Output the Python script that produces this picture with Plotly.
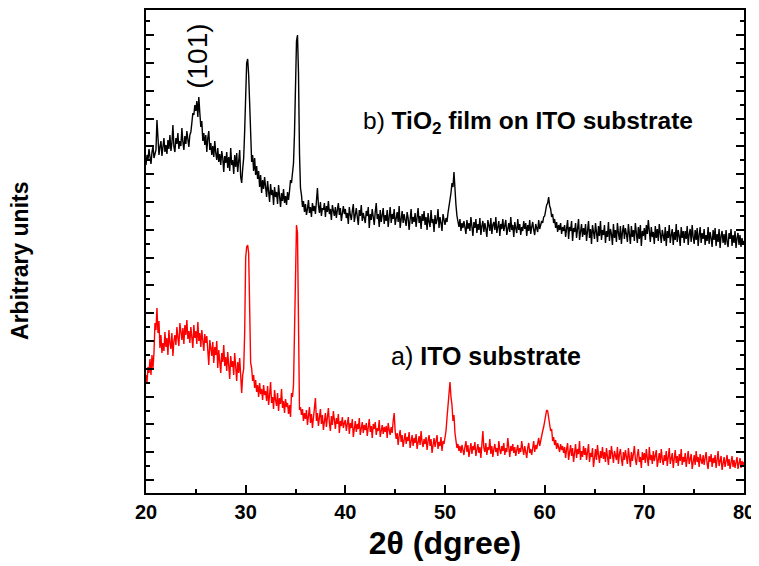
import numpy as np
import plotly.graph_objects as go

# 2-theta scan grid, 0.1 degree steps from 20 to 80
two_theta = np.round(np.arange(20.0, 80.05, 0.1), 1)

# b) TiO2 film on ITO substrate (arbitrary units)
tio2_on_ito = [
    328, 338, 333, 344, 336, 329, 341, 347, 335, 340, 343, 373, 350, 338, 346, 352, 337, 344, 355, 341,
    348, 339, 353, 344, 358, 342, 350, 368, 346, 341, 355, 349, 360, 344, 352, 347, 365, 351, 343, 357,
    349, 362, 354, 346, 358, 361, 370, 380, 378, 388, 382, 392, 376, 396, 380, 366, 372, 352, 360, 348,
    358, 341, 355, 362, 343, 350, 338, 347, 336, 352, 340, 333, 345, 331, 339, 328, 342, 335, 321, 337,
    330, 341, 325, 336, 322, 345, 328, 333, 319, 338, 326, 340, 321, 330, 343, 316, 310, 324, 335, 362,
    398, 430, 434, 418, 390, 345, 331, 338, 322, 335, 318, 327, 314, 322, 306, 318, 300, 313, 304, 316,
    305, 296, 312, 300, 291, 309, 298, 303, 288, 306, 296, 301, 289, 308, 294, 286, 300, 292, 304, 290,
    297, 288, 301, 293, 302, 313, 310, 318, 330, 360, 410, 452, 458, 420, 340, 305, 298, 286, 292, 281,
    289, 278, 284, 293, 280, 286, 276, 290, 282, 287, 279, 294, 305, 288, 280, 291, 277, 285, 283, 290,
    276, 287, 281, 292, 279, 284, 273, 288, 282, 277, 286, 275, 283, 290, 278, 285, 272, 281, 287, 279,
    284, 275, 280, 269, 286, 278, 273, 282, 289, 271, 279, 285, 276, 268, 283, 277, 288, 272, 280, 274,
    270, 282, 277, 286, 265, 279, 273, 284, 276, 268, 281, 290, 274, 279, 266, 283, 271, 277, 285, 269,
    278, 272, 283, 266, 275, 286, 270, 279, 274, 284, 268, 277, 281, 271, 287, 265, 276, 282, 270, 279,
    273, 267, 281, 275, 263, 278, 284, 269, 276, 271, 280, 266, 274, 285, 270, 277, 264, 279, 272, 282,
    268, 276, 263, 280, 271, 266, 283, 270, 274, 261, 278, 269, 273, 284, 265, 276, 270, 262, 279, 272,
    268, 275, 271, 280, 286, 295, 300, 310, 306, 321, 300, 288, 277, 270, 266, 274, 262, 270, 265, 272,
    266, 259, 273, 264, 270, 262, 276, 268, 257, 271, 265, 274, 260, 269, 263, 275, 258, 267, 272, 261,
    270, 264, 256, 273, 267, 262, 275, 259, 268, 271, 263, 276, 260, 266, 272, 257, 269, 264, 274, 262,
    267, 273, 258, 265, 270, 261, 276, 263, 268, 256, 271, 265, 260, 274, 263, 269, 258, 266, 262, 272,
    264, 270, 257, 268, 262, 273, 259, 266, 271, 263, 258, 269, 265, 261, 273, 264, 268, 272, 270, 276,
    277, 284, 288, 290, 296, 287, 284, 276, 279, 270, 274, 265, 271, 261, 268, 263, 270, 259, 266, 262,
    268, 256, 264, 273, 254, 266, 262, 272, 252, 265, 261, 270, 255, 264, 274, 253, 263, 269, 256, 265,
    258, 269, 252, 263, 272, 255, 264, 249, 268, 261, 254, 270, 262, 251, 267, 257, 272, 253, 263, 258,
    268, 250, 262, 256, 271, 252, 264, 259, 248, 269, 255, 263, 251, 270, 260, 253, 267, 249, 261, 268,
    254, 265, 259, 251, 269, 261, 249, 267, 256, 263, 252, 270, 260, 250, 266, 254, 268, 247, 262, 257,
    265, 253, 268, 259, 273, 262, 251, 266, 256, 261, 249, 267, 255, 264, 252, 269, 258, 250, 263, 256,
    252, 266, 247, 262, 255, 268, 250, 258, 264, 248, 261, 253, 269, 251, 263, 257, 247, 266, 255, 262,
    250, 262, 254, 267, 248, 259, 264, 251, 268, 256, 249, 263, 253, 265, 247, 258, 266, 250, 260, 254,
    264, 248, 258, 252, 266, 249, 261, 255, 246, 263, 253, 265, 247, 259, 251, 264, 245, 257, 262, 250,
    259, 248, 263, 251, 246, 260, 254, 264, 247, 258, 250, 262, 245, 255, 260, 248, 258, 246, 255, 249,
    252,
]

# a) bare ITO substrate (arbitrary units)
ito_substrate = [
    118, 110, 126, 120, 134, 118, 138, 125, 140, 170, 163, 185, 160, 172, 145, 158, 140, 150, 142, 161,
    146, 155, 138, 163, 150, 144, 160, 137, 152, 158, 148, 166, 155, 147, 170, 160, 153, 165, 149, 168,
    158, 173, 154, 162, 150, 166, 157, 145, 168, 155, 162, 149, 171, 152, 160, 146, 163, 155, 142, 159,
    150, 157, 139, 128, 153, 144, 137, 151, 130, 146, 138, 152, 125, 143, 133, 120, 140, 131, 148, 127,
    136, 122, 141, 130, 114, 137, 126, 132, 118, 140, 128, 112, 131, 120, 135, 116, 100, 118, 124, 160,
    235, 246, 248, 240, 180, 130, 125, 112, 118, 105, 113, 101, 108, 96, 110, 99, 104, 93, 108, 98,
    102, 92, 107, 88, 98, 111, 90, 96, 84, 103, 93, 87, 100, 82, 95, 89, 104, 85, 92, 80,
    94, 86, 90, 79, 88, 76, 100, 96, 108, 160, 235, 268, 260, 190, 83, 86, 78, 84, 72, 80,
    74, 83, 68, 77, 86, 70, 79, 65, 75, 81, 95, 72, 80, 67, 76, 84, 69, 78, 63, 73,
    80, 66, 74, 85, 70, 62, 77, 68, 82, 71, 64, 75, 69, 79, 60, 72, 67, 76, 65, 70,
    73, 62, 68, 76, 59, 70, 65, 74, 56, 67, 72, 61, 69, 64, 75, 58, 66, 71, 60, 68,
    63, 70, 57, 66, 74, 61, 67, 55, 69, 64, 71, 58, 65, 62, 73, 56, 64, 68, 59, 66,
    61, 67, 55, 70, 63, 58, 66, 60, 72, 80, 62, 54, 60, 48, 57, 63, 51, 58, 46, 55,
    60, 49, 56, 52, 61, 45, 53, 58, 47, 55, 50, 59, 44, 53, 57, 48, 62, 51, 46, 54,
    49, 56, 43, 52, 58, 47, 54, 40, 50, 55, 46, 53, 58, 44, 51, 47, 56, 42, 52, 49,
    55, 62, 75, 90, 98, 111, 96, 88, 72, 78, 60, 52, 45, 49, 42, 47, 40, 48, 44, 38,
    46, 52, 41, 48, 36, 45, 50, 39, 47, 43, 51, 37, 44, 49, 40, 46, 35, 48, 62, 45,
    41, 50, 38, 46, 43, 54, 39, 47, 36, 44, 49, 41, 45, 37, 52, 43, 39, 47, 42, 50,
    38, 45, 41, 55, 44, 36, 47, 42, 49, 40, 46, 37, 43, 48, 39, 45, 41, 52, 44, 38,
    47, 42, 35, 45, 50, 40, 44, 38, 46, 52, 41, 48, 44, 50, 55, 47, 53, 58, 62, 66,
    72, 76, 83, 82, 74, 70, 62, 64, 52, 56, 48, 53, 44, 50, 46, 41, 49, 43, 47, 40,
    46, 35, 44, 50, 33, 42, 48, 37, 45, 31, 41, 49, 35, 44, 39, 52, 33, 42, 36, 47,
    38, 45, 33, 42, 49, 31, 40, 36, 45, 26, 38, 44, 33, 48, 38, 30, 42, 35, 46, 34,
    41, 31, 45, 37, 28, 43, 34, 47, 38, 30, 42, 36, 33, 46, 29, 39, 44, 34, 27, 41,
    33, 43, 37, 29, 45, 36, 26, 41, 32, 39, 47, 34, 28, 38, 44, 31, 36, 25, 41, 33,
    40, 30, 44, 35, 27, 46, 33, 38, 29, 42, 32, 37, 43, 26, 35, 40, 30, 44, 34, 28,
    38, 32, 42, 27, 36, 45, 29, 35, 40, 25, 34, 43, 30, 37, 27, 39, 32, 44, 28, 36,
    31, 40, 26, 36, 42, 29, 34, 39, 24, 33, 38, 28, 42, 31, 36, 26, 39, 33, 29, 38,
    28, 35, 41, 29, 24, 37, 31, 39, 26, 35, 30, 38, 25, 33, 42, 27, 32, 37, 23, 30,
    36, 26, 33, 38, 27, 34, 24, 31, 37, 26, 33, 25, 30, 36, 24, 29, 35, 25, 32, 28,
    31,
]

x_ticks = [20, 30, 40, 50, 60, 70, 80]

FONT = "Liberation Sans, Arial, sans-serif"

fig = go.Figure()
fig.add_trace(go.Scatter(x=two_theta, y=ito_substrate, mode="lines",
                         line=dict(color="#ff0000", width=1.4), showlegend=False))
fig.add_trace(go.Scatter(x=two_theta, y=tio2_on_ito, mode="lines",
                         line=dict(color="#000000", width=1.4), showlegend=False))

# the page body adds an 8 px offset, so the figure is sized to fit inside the window
fig.update_layout(
    width=751, height=558,
    margin=dict(l=138, r=15, t=2, b=73, autoexpand=False),
    paper_bgcolor="white", plot_bgcolor="white",
    font=dict(family=FONT, color="black"),
    xaxis=dict(
        range=[20, 80], tickvals=x_ticks, ticks="inside", ticklen=8, tickwidth=2,
        tickcolor="black", showline=True, linewidth=2, linecolor="black", mirror=True,
        showgrid=False, zeroline=False, automargin=False,
        tickfont=dict(size=20, family=FONT, weight="bold"),
        minor=dict(dtick=5, tick0=0, ticks="inside", ticklen=4, tickwidth=2, tickcolor="black", showgrid=False),
        title=dict(text="2θ (dgree)", font=dict(size=32, family=FONT, weight="bold"), standoff=10),
    ),
    yaxis=dict(
        range=[0, 483], tick0=13, dtick=27.8, ticks="inside", ticklen=8, tickwidth=2,
        tickcolor="black", showticklabels=False, showline=True, linewidth=2,
        linecolor="black", mirror="ticks", showgrid=False, zeroline=False, automargin=False,
        minor=dict(tick0=13, dtick=13.9, ticks="inside", ticklen=4, tickwidth=2, tickcolor="black", showgrid=False),
    ),
)

fig.add_annotation(text="<b>Arbitrary units</b>", xref="paper", yref="paper",
                   x=-0.211, y=0.48, xanchor="center", yanchor="middle", textangle=-90,
                   showarrow=False, font=dict(size=23, family=FONT))
fig.add_annotation(text="(101)", xref="x", yref="y", x=25.1, y=437, textangle=-90,
                   showarrow=False, font=dict(size=28, family=FONT))
fig.add_annotation(text="b) <b>TiO<sub>2</sub> film on ITO substrate</b>", xref="x", yref="y",
                   x=41.6, y=371, xanchor="left", showarrow=False, font=dict(size=24.5, family=FONT))
fig.add_annotation(text="a) <b>ITO substrate</b>", xref="x", yref="y",
                   x=44.4, y=137, xanchor="left", showarrow=False, font=dict(size=25, family=FONT))

fig.write_html("out.html")
